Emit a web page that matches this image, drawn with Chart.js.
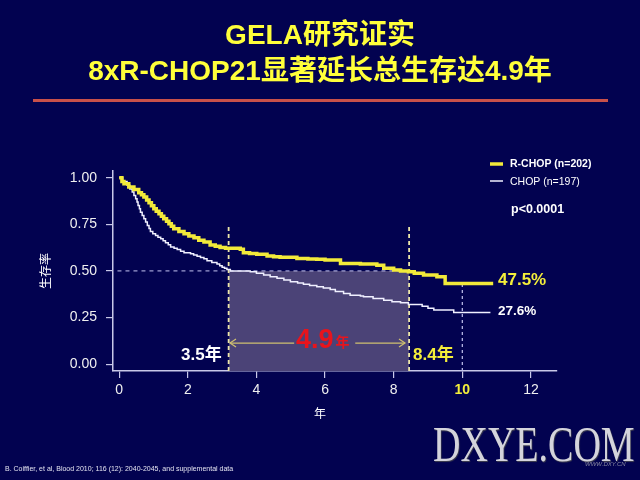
<!DOCTYPE html>
<html>
<head>
<meta charset="utf-8">
<script src="https://cdn.jsdelivr.net/npm/chart.js@4.4.1/dist/chart.umd.min.js"></script>
<style>
  html, body { margin: 0; padding: 0; background: #020250; }
  #wrap { position: relative; width: 640px; height: 480px; overflow: hidden; background: #020250;
          font-family: "Liberation Sans", "Noto Sans CJK SC", sans-serif; }
  #chart { position: absolute; left: 0; top: 0; }
  .title { position: absolute; left: 0; width: 640px; text-align: center; color: #ffff3a;
           font-weight: bold; font-size: 28px; line-height: 32px; white-space: nowrap; }
  #t1 { top: 19px; }
  #t2 { top: 55px; }
  #rule { position: absolute; left: 33px; top: 99px; width: 575px; height: 3px; background: #c8504a; }
  #source { position: absolute; left: 5px; top: 465px; font-size: 7px; color: #e4e4f0; white-space: nowrap; }
  #mark { position: absolute; left: 433px; top: 419px; font-family: "Liberation Serif", "DejaVu Serif", serif;
          font-size: 50px; line-height: 50px; color: #d4d4dc; transform: scaleX(0.76); transform-origin: left top;
          text-shadow: 1px 1px 1px #404050; white-space: nowrap; }
  #mark2 { position: absolute; left: 585px; top: 461px; font-size: 6px; font-style: italic; color: #8a8aa0; }
</style>
</head>
<body>
<div id="wrap">
  <canvas id="chart" width="640" height="480"></canvas>
  <div class="title" id="t1">GELA研究证实</div>
  <div class="title" id="t2">8xR-CHOP21显著延长总生存达4.9年</div>
  <div id="rule"></div>
  <div id="source">B. Coiffier, et al, Blood 2010; 116 (12): 2040-2045, and supplemental data</div>
  <div id="mark">DXYE.COM</div>
  <div id="mark2">WWW.DXY.CN</div>
</div>
<script>
// Kaplan-Meier step points (years, survival)
const rchopYears = [0, 0.08, 0.14, 0.28, 0.43, 0.57, 0.65, 0.72, 0.8, 0.87, 0.94, 1.01, 1.08, 1.16, 1.23, 1.3, 1.38,
  1.45, 1.52, 1.59, 1.74, 1.89, 2.03, 2.18, 2.32, 2.47, 2.65, 2.8, 2.94, 3.1, 3.53, 3.62, 3.8, 4.01, 4.31, 4.5, 4.69,
  5.18, 5.5, 5.76, 6.0, 6.45, 7.03, 7.51, 7.71, 8.0, 8.2, 8.43, 8.6, 8.87, 9.26, 9.5, 10.9];
const rchopSurv = [1.0, 0.98, 0.967, 0.95, 0.937, 0.919, 0.908, 0.896, 0.88, 0.865, 0.849, 0.833, 0.82, 0.806, 0.793,
  0.78, 0.766, 0.753, 0.74, 0.726, 0.712, 0.699, 0.687, 0.678, 0.664, 0.655, 0.639, 0.632, 0.626, 0.621, 0.616, 0.598,
  0.594, 0.59, 0.58, 0.576, 0.573, 0.567, 0.564, 0.562, 0.559, 0.54, 0.537, 0.531, 0.514, 0.505, 0.5, 0.495, 0.488,
  0.478, 0.469, 0.433, 0.433];

const chopYears = [0, 0.1, 0.23, 0.31, 0.38, 0.43, 0.48, 0.52, 0.55, 0.59, 0.62, 0.67, 0.72, 0.77, 0.82, 0.87, 0.91,
  0.98, 1.06, 1.13, 1.21, 1.28, 1.35, 1.43, 1.5, 1.6, 1.69, 1.79, 1.89, 2.08, 2.17, 2.27, 2.37, 2.47, 2.56, 2.7, 2.85,
  2.93, 3.0, 3.07, 3.14, 3.24, 3.82, 4.0, 4.21, 4.4, 4.6, 4.8, 4.99, 5.2, 5.37, 5.55, 5.76, 5.95, 6.15, 6.3, 6.54,
  6.73, 7.03, 7.12, 7.4, 7.71, 7.95, 8.2, 8.43, 8.83, 9.0, 9.17, 9.75, 10.82];
const chopSurv = [1.0, 0.98, 0.959, 0.94, 0.923, 0.905, 0.887, 0.87, 0.851, 0.833, 0.815, 0.797, 0.78, 0.762, 0.744,
  0.728, 0.712, 0.7, 0.69, 0.681, 0.672, 0.662, 0.651, 0.64, 0.628, 0.621, 0.615, 0.606, 0.597, 0.592, 0.585, 0.579,
  0.572, 0.565, 0.555, 0.545, 0.537, 0.528, 0.52, 0.514, 0.508, 0.5, 0.495, 0.487, 0.478, 0.469, 0.46, 0.451, 0.442,
  0.435, 0.429, 0.422, 0.415, 0.408, 0.4, 0.39, 0.379, 0.37, 0.365, 0.361, 0.352, 0.343, 0.335, 0.329, 0.32, 0.311,
  0.3, 0.29, 0.277, 0.277];

const xTicks = [0, 2, 4, 6, 8, 10, 12];
const yTicks = [0, 0.25, 0.5, 0.75, 1.0];

// annotation values
const medianYears = [3.19, 8.45];      // where each arm crosses 50%
const medianLevel = 0.5;
const guideTop = 0.745;
const tenYear = 10;
const tenYearChop = 0.425;
const arrowLevel = 0.113;
const arrowLeft = [3.23, 5.1];
const arrowRight = [6.88, 8.33];
const medianLabels = ["3.5年", "8.4年"];
const endLabels = ["47.5%", "27.6%"];
const gainLabel = "4.9";
const seriesNames = ["R-CHOP (n=202)", "CHOP (n=197)"];
const pLabel = "p<0.0001";

const YELLOW = "#f2ea3a";
const AXIS = "#c8c8e8";
const FONT = '"Liberation Sans", "Noto Sans CJK SC", sans-serif';
Chart.defaults.font.family = FONT;

const toPts = (xs, ys) => xs.map((x, i) => ({ x, y: ys[i] }));
const yMin = -0.037;

const annotations = {
  id: "annotations",
  afterDraw(chart) {
    const { ctx } = chart;
    const xs = chart.scales.x, ys = chart.scales.y;
    const px = (v) => xs.getPixelForValue(v);
    const py = (v) => ys.getPixelForValue(v);
    ctx.save();

    // arrow heads
    ctx.strokeStyle = "#cfc070";
    ctx.lineWidth = 1.2;
    const ay = py(arrowLevel);
    ctx.beginPath();
    ctx.moveTo(px(arrowLeft[0]) + 6, ay - 4); ctx.lineTo(px(arrowLeft[0]), ay); ctx.lineTo(px(arrowLeft[0]) + 6, ay + 4);
    ctx.moveTo(px(arrowRight[1]) - 6, ay - 4); ctx.lineTo(px(arrowRight[1]), ay); ctx.lineTo(px(arrowRight[1]) - 6, ay + 4);
    ctx.stroke();

    // 4.9年
    ctx.fillStyle = "#e8141c";
    ctx.textBaseline = "middle";
    ctx.textAlign = "left";
    ctx.font = "bold 27px " + FONT;
    const gx = px(5.15);
    ctx.fillText(gainLabel, gx, ay - 2);
    const gw = ctx.measureText(gainLabel).width;
    ctx.font = "bold 14px " + FONT;
    ctx.fillText("年", gx + gw + 2, ay);

    // median labels
    ctx.font = "bold 17px " + FONT;
    ctx.textAlign = "right";
    ctx.fillStyle = "#ffffff";
    ctx.fillText(medianLabels[0], px(medianYears[0]) - 7, py(0.045));
    ctx.textAlign = "left";
    ctx.fillStyle = "#f4ee3a";
    ctx.fillText(medianLabels[1], px(medianYears[1]) + 4, py(0.045));

    // end-of-curve labels
    ctx.font = "bold 17px " + FONT;
    ctx.fillStyle = "#f4ee3a";
    ctx.fillText(endLabels[0], 498, py(rchopSurv[rchopSurv.length - 1]) - 3);
    ctx.font = "bold 13.5px " + FONT;
    ctx.fillStyle = "#ffffff";
    ctx.fillText(endLabels[1], 498, py(chopSurv[chopSurv.length - 1]) - 1);

    // legend
    ctx.lineWidth = 3.5;
    ctx.strokeStyle = YELLOW;
    ctx.beginPath(); ctx.moveTo(490, 164); ctx.lineTo(503, 164); ctx.stroke();
    ctx.lineWidth = 1.5;
    ctx.strokeStyle = "#f0f0ff";
    ctx.beginPath(); ctx.moveTo(490, 181); ctx.lineTo(503, 181); ctx.stroke();
    ctx.fillStyle = "#ffffff";
    ctx.font = "bold 10.5px " + FONT;
    ctx.fillText(seriesNames[0], 510, 164);
    ctx.font = "10.5px " + FONT;
    ctx.fillText(seriesNames[1], 510, 182);
    ctx.font = "bold 12.5px " + FONT;
    ctx.fillText(pLabel, 511, 210);

    // axis titles
    ctx.font = "12px " + FONT;
    ctx.textAlign = "center";
    ctx.fillText("年", 320, 415);
    ctx.translate(47, py(0.5));
    ctx.rotate(-Math.PI / 2);
    ctx.fillText("生存率", 0, 0);
    ctx.restore();
  }
};

const dashed = (data, color, dash, width, order) => ({
  data, borderColor: color, borderDash: dash, borderWidth: width, pointRadius: 0, fill: false, order
});

new Chart(document.getElementById("chart"), {
  type: "line",
  data: {
    datasets: [
      { data: toPts(rchopYears, rchopSurv), stepped: true, borderColor: YELLOW, borderWidth: 3.5,
        pointRadius: 0, fill: false, order: 0 },
      { data: toPts(chopYears, chopSurv), stepped: true, borderColor: "#f0f0ff", borderWidth: 1.5,
        pointRadius: 0, fill: false, order: 1 },
      dashed([{ x: -0.05, y: medianLevel }, { x: medianYears[1], y: medianLevel }], "#c4c4f0", [4, 4], 1, 2),
      dashed([{ x: medianYears[0], y: yMin }, { x: medianYears[0], y: guideTop }], "#ece6a8", [4, 3], 1.8, 2),
      dashed([{ x: medianYears[1], y: yMin }, { x: medianYears[1], y: guideTop }], "#ece6a8", [4, 3], 1.8, 2),
      dashed([{ x: tenYear, y: yMin }, { x: tenYear, y: tenYearChop }], "#c4c4f0", [3, 3], 1.2, 2),
      dashed([{ x: arrowLeft[0], y: arrowLevel }, { x: arrowLeft[1], y: arrowLevel }], "#cfc070", [], 1.2, 2),
      dashed([{ x: arrowRight[0], y: arrowLevel }, { x: arrowRight[1], y: arrowLevel }], "#cfc070", [], 1.2, 2),
      { data: [{ x: medianYears[0], y: medianLevel }, { x: medianYears[1], y: medianLevel }],
        borderWidth: 0, pointRadius: 0, fill: "start", backgroundColor: "#4b4377", order: 5 }
    ]
  },
  options: {
    responsive: false,
    animation: false,
    layout: { padding: { top: 171, right: 83, left: 0, bottom: 0 } },
    plugins: { legend: { display: false }, tooltip: { enabled: false } },
    scales: {
      x: {
        type: "linear", min: -0.18, max: 12.76,
        afterFit: (s) => { s.height = 109; },
        afterBuildTicks: (s) => { s.ticks = xTicks.map((v) => ({ value: v })); },
        grid: { drawOnChartArea: false, drawTicks: true, tickLength: 7, color: AXIS, lineWidth: 1.2 },
        border: { display: true, color: AXIS, width: 1.5 },
        ticks: {
          maxRotation: 0, padding: 4,
          color: (c) => (c.tick && c.tick.value === 10 ? "#f4ee3a" : "#f0f0f0"),
          font: (c) => ({ size: 14, weight: c.tick && c.tick.value === 10 ? "bold" : "normal" })
        }
      },
      y: {
        type: "linear", min: yMin, max: 1.036,
        afterFit: (s) => { s.width = 113; },
        afterBuildTicks: (s) => { s.ticks = yTicks.map((v) => ({ value: v })); },
        grid: { drawOnChartArea: false, drawTicks: true, tickLength: 7, color: AXIS, lineWidth: 1.2 },
        border: { display: true, color: AXIS, width: 1.5 },
        ticks: { padding: 9, color: "#f0f0f0", font: { size: 14 }, callback: (v) => v.toFixed(2) }
      }
    }
  },
  plugins: [annotations]
});
</script>
</body>
</html>
